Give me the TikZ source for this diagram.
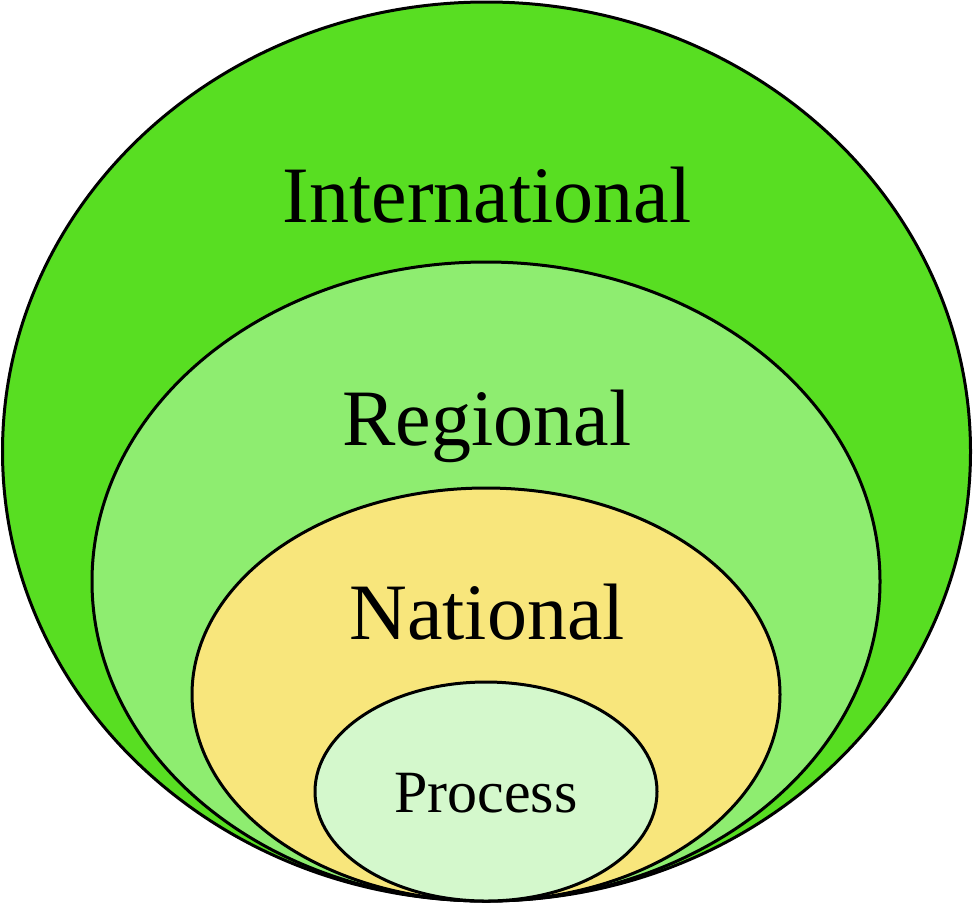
\documentclass[tikz,border=0pt]{standalone}
\usepackage{fontspec}
\setmainfont{Liberation Serif}
\definecolor{cIntl}{RGB}{88,222,34}
\definecolor{cReg}{RGB}{142,237,112}
\definecolor{cNat}{RGB}{248,230,124}
\definecolor{cProc}{RGB}{212,248,204}
\begin{document}
\begin{tikzpicture}[x=1pt,y=-1pt,
  ring/.style={draw=black,line width=3pt},
  lbl/.style={anchor=base,inner sep=0pt,font=\fontsize{80}{80}\selectfont}]
\useasboundingbox (0,0) rectangle (973,903);
\fill[cIntl,ring] (486.5,451.5) ellipse [x radius=484, y radius=449.5];
\fill[cReg,ring] (486,581.5) ellipse [x radius=394, y radius=319.5];
\fill[cNat,ring] (486,694.5) ellipse [x radius=294, y radius=206.5];
\fill[cProc,ring] (486,791.5) ellipse [x radius=171, y radius=109.5];
\node[lbl] (intl) at (487,222) {International};
\node[lbl] (reg) at (487,445) {Regional};
\node[lbl] (nat) at (487,639) {National};
\node[lbl,font=\fontsize{60}{60}\selectfont] (proc) at (486,812) {Process};
\end{tikzpicture}
\end{document}
